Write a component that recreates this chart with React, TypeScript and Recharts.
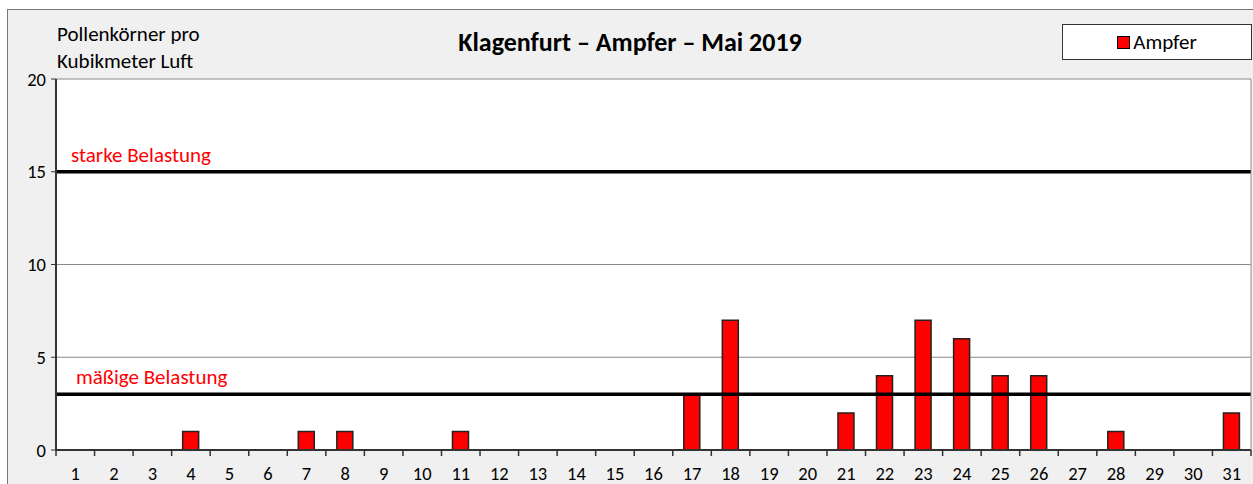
import React from 'react';
import { BarChart, Bar, XAxis, YAxis, CartesianGrid, ReferenceLine } from 'recharts';

const days = ['1','2','3','4','5','6','7','8','9','10','11','12','13','14','15','16','17','18','19','20','21','22','23','24','25','26','27','28','29','30','31'];
const ampfer = [0,0,0,1,0,0,1,1,0,0,1,0,0,0,0,0,3,7,0,0,2,4,7,6,4,4,0,1,0,0,2];
const yTicks = [0, 5, 10, 15, 20];
const thresholds = [
  { value: 15, label: 'starke Belastung' },
  { value: 3, label: 'mäßige Belastung' },
];
const title = 'Klagenfurt – Ampfer – Mai 2019';
const yTitle = ['Pollenkörner pro', 'Kubikmeter Luft'];
const seriesName = 'Ampfer';

const data = days.map((d, i) => ({ day: d, value: ampfer[i] }));

const FONT = 'Carlito, Calibri, Lato, sans-serif';

const XTick = (props: any) => {
  const { x, y, payload, index } = props;
  const off = payload && typeof payload.offset === 'number' ? payload.offset : 19.27;
  return (
    <g>
      <line x1={x - off} x2={x - off} y1={y} y2={y + 6} stroke="#333" strokeWidth={1.5} />
      {index === days.length - 1 && (
        <line x1={x + off} x2={x + off} y1={y} y2={y + 6} stroke="#333" strokeWidth={1.5} />
      )}
      <text x={x} y={y + 30} textAnchor="middle" fontSize={18.5} fontFamily={FONT} fill="#000">
        {payload.value}
      </text>
    </g>
  );
};

export default function App() {
  return (
    <div style={{ position: 'absolute', left: 0, top: 0, width: 1253, height: 484, background: '#fff', overflow: 'hidden' }}>
      <div
        style={{
          position: 'absolute',
          left: 7,
          top: 9,
          width: 1260,
          height: 490,
          background: '#f0f0f0',
          borderLeft: '1.5px solid #777',
          borderTop: '1.5px solid #777',
        }}
      />
      <div style={{ position: 'absolute', left: 0, top: 0 }}>
        <BarChart
          width={1253}
          height={484}
          data={data}
          margin={{ top: 79, right: 0, bottom: 0, left: 0 }}
          barSize={16}
        >
          <CartesianGrid vertical={false} horizontal={true} stroke="#8a8a8a" strokeWidth={1} fill="#fff" />
          <XAxis
            dataKey="day"
            height={34}
            tickLine={false}
            tickSize={0}
            tickMargin={0}
            interval={0}
            axisLine={{ stroke: '#333', strokeWidth: 2 }}
            tick={<XTick />}
          />
          <YAxis
            domain={[0, 20]}
            ticks={yTicks}
            width={56}
            tickSize={5}
            tickMargin={5}
            interval={0}
            axisLine={{ stroke: '#333', strokeWidth: 2 }}
            tickLine={{ stroke: '#333', strokeWidth: 1 }}
            tick={{ fontSize: 18.5, fontFamily: FONT, fill: '#000' }}
          />
          <YAxis
            yAxisId="right"
            orientation="right"
            width={2}
            tick={false}
            tickLine={false}
            axisLine={{ stroke: '#8a8a8a', strokeWidth: 1 }}
            domain={[0, 20]}
          />
          <Bar dataKey="value" name={seriesName} fill="#ff0000" stroke="#222" strokeWidth={1.5} isAnimationActive={false} />
          {thresholds.map((t) => (
            <ReferenceLine
              key={t.label}
              y={t.value}
              stroke="#000"
              strokeWidth={3.5}
              ifOverflow="visible"
              label={(p: any) => (
                <text
                  x={(p.viewBox?.x ?? 56) + (t.value === 15 ? 15 : 20)}
                  y={(p.viewBox?.y ?? 0) - 10}
                  fill="#ff0000"
                  fontSize={21}
                  fontFamily={FONT}
                >
                  {t.label}
                </text>
              )}
            />
          ))}
        </BarChart>
      </div>
      <div
        style={{
          position: 'absolute',
          left: 1062,
          top: 24,
          width: 188,
          height: 34,
          background: '#fff',
          border: '1.5px solid #333',
          display: 'flex',
          alignItems: 'center',
          justifyContent: 'center',
          fontFamily: FONT,
          fontSize: 21,
          color: '#000',
          lineHeight: '34px',
        }}
      >
        <span style={{ display: 'inline-block', width: 11, height: 11, background: '#ff0000', border: '1px solid #000', marginRight: 3 }} />
        <span>{seriesName}</span>
      </div>
      <svg width={1253} height={484} style={{ position: 'absolute', left: 0, top: 0, pointerEvents: 'none' }}>
        <text x={630} y={51} textAnchor="middle" fontSize={26} fontWeight="bold" fontFamily={FONT} fill="#000">
          {title}
        </text>
        <text x={57} y={41} fontSize={21} fontFamily={FONT} fill="#000">{yTitle[0]}</text>
        <text x={57} y={68} fontSize={21} fontFamily={FONT} fill="#000">{yTitle[1]}</text>
      </svg>
    </div>
  );
}
